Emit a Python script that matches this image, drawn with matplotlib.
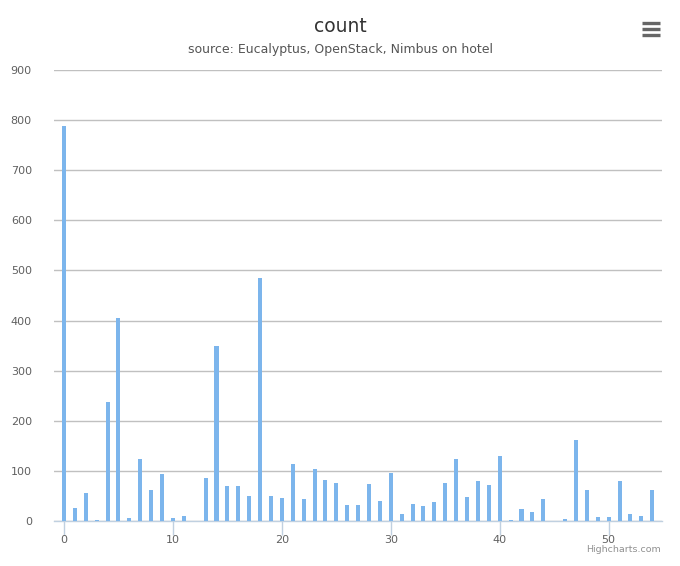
import matplotlib
matplotlib.use("Agg")
import matplotlib.pyplot as plt
from matplotlib.lines import Line2D

# bar values, one per category 0..54
counts = [788, 26, 56, 2, 238, 406, 6, 124, 62, 94,
          6, 10, 0, 86, 350, 70, 70, 50, 484, 50,
          46, 114, 44, 104, 82, 76, 32, 32, 74, 40,
          96, 14, 34, 30, 38, 76, 124, 48, 80, 72,
          130, 2, 24, 18, 44, 0, 4, 162, 62, 8,
          8, 80, 14, 10, 62]
categories = list(range(len(counts)))
y_ticks = list(range(0, 1000, 100))
x_ticks = list(range(0, 60, 10))

W, H = 680, 566
fig = plt.figure(figsize=(W / 100, H / 100), dpi=100)
ax = fig.add_axes([54 / W, 1 - 521 / H, (662 - 54) / W, (521 - 70) / H])

ax.bar(categories, counts, width=0.37, color="#7cb5ec", zorder=3)

ax.set_xlim(-0.92, 54.9)
ax.set_ylim(0, 900)
ax.set_yticks(y_ticks)
ax.set_xticks(x_ticks)
ax.yaxis.grid(True, color="#c0c0c0", linewidth=1, zorder=0)

for side in ("left", "right", "top"):
    ax.spines[side].set_visible(False)
ax.spines["bottom"].set_color("#c0d0e0")
ax.spines["bottom"].set_linewidth(1)

ax.tick_params(axis="y", length=0, pad=16, labelsize=8, labelcolor="#606060")
ax.tick_params(axis="x", length=10, width=1, color="#c0d0e0", pad=0,
               labelsize=8, labelcolor="#606060")

fig.text(0.5, 1 - 27 / H, "count", ha="center", va="center",
         fontsize=13.5, color="#333333")
fig.text(0.5, 1 - 50 / H, "source: Eucalyptus, OpenStack, Nimbus on hotel",
         ha="center", va="center", fontsize=9, color="#555555")
fig.text(661 / W, 1 - 550 / H, "Highcharts.com", ha="right", va="center",
         fontsize=6.8, color="#909090")

# export menu icon
for yy in (23, 29, 35):
    fig.add_artist(Line2D([642 / W, 660 / W], [1 - yy / H, 1 - yy / H],
                          color="#666666", linewidth=2.4,
                          solid_capstyle="butt"))

fig.savefig("out.png", dpi=100)
